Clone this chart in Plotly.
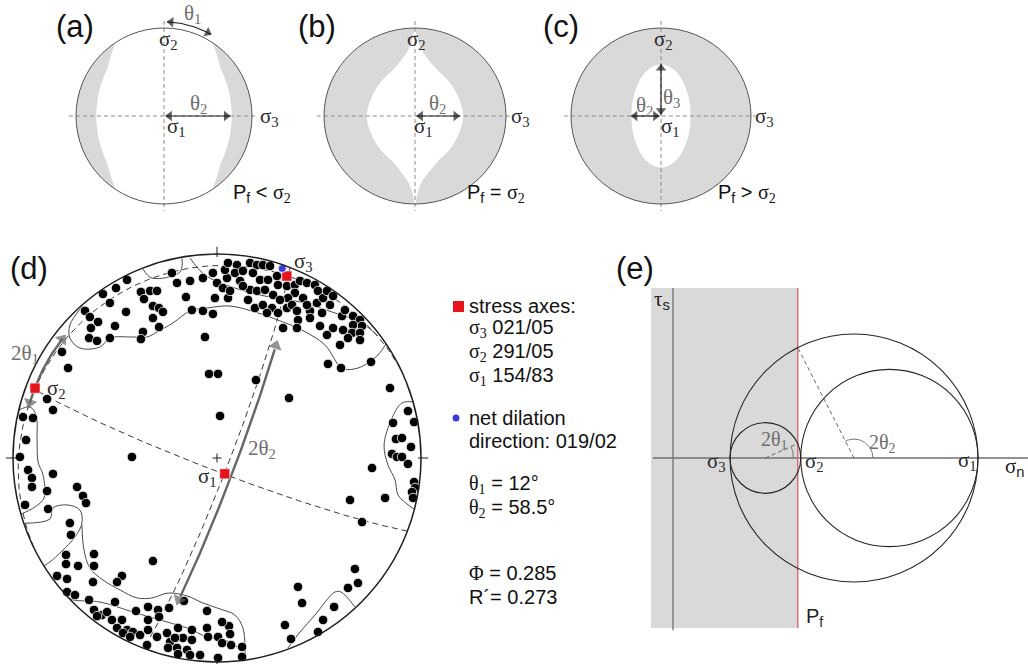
import math
import plotly.graph_objects as go

W, H = 1028, 664
SANS = "Liberation Sans, Arial, Helvetica, sans-serif"
SERIF = "Liberation Serif, Times New Roman, serif"
SHADE = "#d9d9d9"
INK = "#1e1e1e"
GREEK = "#2a2a2a"
MUTED = "#6e6e6e"
DASH_GREY = "#8c8c8c"

# ---------------- data ----------------
# (a) Pf < sigma2: inner edge of the dilatant band around sigma3 (upper-right quarter of a unit net)
BAND_A_E = [0.55, 0.60, 0.64, 0.70, 0.745, 0.765, 0.77]
BAND_A_N = [0.835, 0.70, 0.557, 0.40, 0.25, 0.10, 0.0]
# (b) Pf = sigma2: edge of the non-dilatant lens (right half, pole to equator)
LENS_B_E = [0.0, 0.03, 0.08, 0.22, 0.39, 0.49, 0.53]
LENS_B_N = [1.0, 0.87, 0.74, 0.55, 0.37, 0.18, 0.0]
# (c) Pf > sigma2: half axes of the non-dilatant ellipse around sigma1
HOLE_C_E, HOLE_C_N = 0.33, 0.585

# (d) principal stress axes, trend/plunge in degrees
AXIS_NAMES = ["σ1", "σ2", "σ3"]
AXIS_TREND = [154, 291, 21]
AXIS_PLUNGE = [83, 5, 5]
DILATION_TREND, DILATION_PLUNGE = 19, 2
THETA1, THETA2 = 12.0, 58.5
PHI, R_PRIME = 0.285, 0.273

# poles to fractures, equal-area lower hemisphere, net coordinates (east, north), primitive radius 1
POLE_E = [
    -0.441, -0.495, -0.559, -0.525, -0.647, -0.623, -0.583, -0.618, -0.627, -0.588,
    -0.525, -0.500, -0.446, -0.373, -0.328, -0.294, -0.358, -0.314, -0.284, -0.265,
    -0.314, -0.284, -0.363, -0.373, -0.221, -0.196, -0.152, -0.132, -0.069, -0.020,
    0.000, -0.010, 0.029, 0.049, -0.123, -0.069, -0.020, -0.059, -0.760, -0.730,
    -0.039, 0.005, -0.833, -0.804, -0.951, -0.902, -0.936, -0.966, -0.417, 0.015,
    0.054, 0.039, 0.054, 0.098, 0.088, 0.127, 0.162, 0.196, 0.225, 0.260,
    0.176, 0.211, 0.250, 0.294, 0.113, 0.162, 0.196, 0.235, 0.275, 0.299,
    0.343, 0.382, 0.407, 0.441, 0.480, 0.495, 0.382, 0.422, 0.348, 0.309,
    0.152, 0.186, 0.225, 0.270, 0.299, 0.245, 0.343, 0.368, 0.392, 0.456,
    0.441, 0.490, 0.520, 0.539, 0.569, 0.554, 0.515, 0.456, 0.397, 0.392,
    0.324, 0.505, 0.569, 0.613, 0.627, 0.667, 0.701, 0.667, 0.711, 0.618,
    0.662, 0.701, 0.642, 0.701, 0.603, 0.127, 0.064, 0.539, 0.544, 0.608,
    0.755, 0.848, 0.191, 0.353, 0.936, 0.863, 0.966, 0.877, 0.907, 0.951,
    0.858, 0.882, 0.907, 0.936, 0.760, 0.966, 0.971, 0.956, 0.652, 0.824,
    0.961, 0.711, 0.676, 0.691, 0.642, 0.397, 0.417, 0.574, 0.520, 0.333,
    0.495, 0.363, 0.059, 0.064, 0.069, 0.123, 0.123, -0.926, -0.907, -0.907,
    -0.833, -0.804, -0.941, -0.828, -0.686, -0.657, -0.642, -0.721, -0.716, -0.740,
    -0.740, -0.681, -0.603, -0.603, -0.784, -0.735, -0.608, -0.466, -0.490, -0.314,
    -0.735, -0.696, -0.627, -0.500, -0.397, -0.338, -0.289, -0.284, -0.235, -0.162,
    -0.049, 0.025, -0.603, -0.564, -0.539, -0.515, -0.588, -0.466, -0.490, -0.441,
    -0.412, -0.377, -0.461, -0.338, -0.294, -0.245, -0.191, -0.123, -0.049, -0.167,
    -0.123, -0.230, -0.343, -0.240, -0.196, -0.147, -0.083, -0.044, 0.005, 0.005,
    -0.191, -0.132, -0.426, -0.338, 0.025, -0.206,
]
POLE_N = [
    0.873, 0.833, 0.804, 0.760, 0.721, 0.691, 0.667, 0.637, 0.588, 0.574,
    0.588, 0.647, 0.716, 0.814, 0.819, 0.819, 0.779, 0.745, 0.735, 0.716,
    0.686, 0.642, 0.618, 0.583, 0.907, 0.858, 0.789, 0.868, 0.882, 0.907,
    0.858, 0.784, 0.833, 0.882, 0.725, 0.721, 0.706, 0.593, 0.520, 0.441,
    0.412, 0.412, 0.289, 0.235, 0.201, 0.196, 0.088, 0.005, 0.005, 0.206,
    0.784, 0.922, 0.956, 0.946, 0.907, 0.917, 0.956, 0.946, 0.946, 0.941,
    0.907, 0.873, 0.873, 0.892, 0.868, 0.824, 0.819, 0.824, 0.799, 0.848,
    0.843, 0.848, 0.868, 0.858, 0.848, 0.819, 0.809, 0.784, 0.784, 0.775,
    0.775, 0.735, 0.750, 0.735, 0.711, 0.711, 0.735, 0.750, 0.721, 0.721,
    0.750, 0.760, 0.784, 0.819, 0.794, 0.750, 0.711, 0.686, 0.676, 0.637,
    0.637, 0.647, 0.637, 0.696, 0.725, 0.696, 0.676, 0.652, 0.647, 0.627,
    0.613, 0.613, 0.588, 0.578, 0.554, 0.843, 0.819, 0.603, 0.461, 0.441,
    0.471, 0.343, 0.382, 0.294, 0.230, 0.172, 0.176, 0.093, 0.098, 0.054,
    0.020, 0.005, 0.005, -0.029, -0.049, -0.118, -0.147, -0.167, -0.206, -0.196,
    -0.196, -0.314, -0.544, -0.613, -0.637, -0.632, -0.711, -0.730, -0.794, -0.819,
    -0.853, -0.887, -0.824, -0.863, -0.917, -0.926, -0.975, -0.059, -0.098, -0.142,
    -0.162, -0.078, -0.230, -0.250, -0.142, -0.186, -0.221, -0.319, -0.377, -0.475,
    -0.520, -0.529, -0.471, -0.529, -0.578, -0.593, -0.608, -0.578, -0.608, -0.505,
    -0.657, -0.672, -0.696, -0.706, -0.750, -0.730, -0.745, -0.779, -0.735, -0.701,
    -0.750, -0.804, -0.745, -0.770, -0.755, -0.794, -0.775, -0.794, -0.833, -0.843,
    -0.853, -0.868, -0.858, -0.843, -0.877, -0.858, -0.833, -0.843, -0.833, -0.882,
    -0.892, -0.902, -0.917, -0.931, -0.931, -0.941, -0.966, -0.877, -0.877, -0.980,
    -0.961, -0.966, -0.877, -0.794, -0.907, -0.882,
]

# density contours of the poles, (east, north) vertices
CONTOUR_N_OUTER = [(-0.659, 0.745), (-0.721, 0.652), (-0.721, 0.588), (-0.672, 0.539), (-0.574, 0.544),
                   (-0.525, 0.588), (-0.412, 0.593), (-0.343, 0.593), (-0.294, 0.618), (-0.216, 0.662),
                   (-0.132, 0.721), (-0.049, 0.735), (0.064, 0.745), (0.201, 0.711), (0.299, 0.676),
                   (0.417, 0.627), (0.529, 0.554), (0.613, 0.441), (0.691, 0.441), (0.789, 0.505),
                   (0.828, 0.559)]
CONTOUR_N_SMALL = [(-0.363, 0.926), (-0.319, 0.882), (-0.181, 0.912), (-0.172, 0.980)]
CONTOUR_N_INNER = [(-0.132, 0.980), (-0.059, 0.897), (0.088, 0.833), (0.235, 0.794), (0.407, 0.765),
                   (0.578, 0.711), (0.701, 0.667), (0.789, 0.598)]
CONTOUR_E = [(0.961, 0.275), (0.907, 0.270), (0.858, 0.196), (0.819, 0.064), (0.838, -0.034),
             (0.873, -0.108), (0.887, -0.181), (0.931, -0.225), (0.966, -0.250)]
CONTOUR_W = [(-0.971, 0.235), (-0.917, 0.250), (-0.887, 0.211), (-0.882, 0.088), (-0.877, -0.020),
             (-0.853, -0.083), (-0.848, -0.196), (-0.892, -0.240), (-0.961, -0.275)]
CONTOUR_SW = [(-0.940, -0.320), (-0.819, -0.299), (-0.804, -0.245), (-0.735, -0.230), (-0.672, -0.255),
              (-0.662, -0.319), (-0.696, -0.387), (-0.760, -0.456), (-0.819, -0.510), (-0.848, -0.529)]
CONTOUR_S_OUTER = [(-0.662, -0.330), (-0.652, -0.451), (-0.623, -0.539), (-0.559, -0.598), (-0.475, -0.647),
                   (-0.392, -0.686), (-0.319, -0.686), (-0.240, -0.662), (-0.147, -0.676), (-0.069, -0.711),
                   (0.015, -0.740), (0.088, -0.770), (0.127, -0.833), (0.137, -0.917), (0.137, -0.985)]
CONTOUR_S_INNER = [(-0.725, -0.686), (-0.706, -0.696), (-0.574, -0.706), (-0.412, -0.755), (-0.245, -0.804),
                   (-0.147, -0.833), (-0.049, -0.877), (0.064, -0.902), (0.113, -0.941)]
CONTOUR_SE = [(0.348, -0.931), (0.407, -0.853), (0.480, -0.770), (0.578, -0.657), (0.608, -0.657),
              (0.676, -0.730)]

# (e) Mohr diagram, stresses normalised to sigma1 = 1
SIGMA1, SIGMA3 = 1.0, 0.187
SIGMA2 = SIGMA3 + PHI * (SIGMA1 - SIGMA3)
PF = SIGMA3 + R_PRIME * (SIGMA1 - SIGMA3)

# ---------------- figure helpers ----------------
fig = go.Figure()
PX_PER_UNIT = {}


def setup_axes(i, box, centre, sx, sy=None):
    sy = sy or sx
    x0, y0, x1, y1 = box
    cx, cy = centre
    xn, yn = ("xaxis", "yaxis") if i == 1 else (f"xaxis{i}", f"yaxis{i}")
    xr, yr = ("x", "y") if i == 1 else (f"x{i}", f"y{i}")
    fig.update_layout(**{
        xn: dict(domain=[x0 / W, x1 / W], range=[(x0 - cx) / sx, (x1 - cx) / sx],
                 visible=False, anchor=yr, fixedrange=True),
        yn: dict(domain=[1 - y1 / H, 1 - y0 / H], range=[(cy - y1) / sy, (cy - y0) / sy],
                 visible=False, anchor=xr, fixedrange=True),
    })
    PX_PER_UNIT[(xr, yr)] = (sx, sy)
    return xr, yr


def line(ax, xs, ys, color=INK, width=1.0, dash=None, shape="linear"):
    fig.add_trace(go.Scatter(x=list(xs), y=list(ys), mode="lines",
                             line=dict(color=color, width=width, dash=dash, shape=shape),
                             xaxis=ax[0], yaxis=ax[1], hoverinfo="skip", showlegend=False))


def area(ax, xs, ys, color, shape="linear"):
    fig.add_trace(go.Scatter(x=list(xs), y=list(ys), mode="lines", fill="toself", fillcolor=color,
                             line=dict(width=0, color=color, shape=shape),
                             xaxis=ax[0], yaxis=ax[1], hoverinfo="skip", showlegend=False))


def circle(ax, cx, cy, rx, ry=None, line_color=INK, width=1.0, fill=None, layer="above"):
    ry = ry or rx
    fig.add_shape(type="circle", xref=ax[0], yref=ax[1], x0=cx - rx, x1=cx + rx, y0=cy - ry, y1=cy + ry,
                  line=dict(color=line_color, width=width), fillcolor=fill or "rgba(0,0,0,0)", layer=layer)


def head(ax, tip, tail, color=INK, size=9):
    """Filled triangular arrowhead whose point sits on `tip`, aimed from `tail`."""
    sx, sy = PX_PER_UNIT[ax]
    dxp, dyp = (tip[0] - tail[0]) * sx, (tip[1] - tail[1]) * sy
    n = math.hypot(dxp, dyp)
    back = 0.42 * size
    cx = tip[0] - dxp / n * back / sx
    cy = tip[1] - dyp / n * back / sy
    bx = cx - dxp / n * 4 / sx
    by = cy - dyp / n * 4 / sy
    fig.add_trace(go.Scatter(x=[bx, cx], y=[by, cy], mode="markers",
                             marker=dict(symbol="triangle-up", size=[0, size], color=color,
                                         angleref="previous", line=dict(width=0)),
                             xaxis=ax[0], yaxis=ax[1], hoverinfo="skip", showlegend=False))


def double_arrow(ax, p0, p1, color=INK, width=1.2, size=9):
    line(ax, [p0[0], p1[0]], [p0[1], p1[1]], color, width)
    head(ax, p1, p0, color, size)
    head(ax, p0, p1, color, size)


def label(px, py, text, size=20, color=GREEK, family=SERIF, xanchor="center"):
    fig.add_annotation(x=px / W, y=1 - py / H, xref="paper", yref="paper", text=text, showarrow=False,
                       font=dict(size=size, color=color, family=family), xanchor=xanchor, yanchor="middle")


def greek(s):
    return f'<span style="font-family:{SERIF}">{s}</span>'


def arc_points(cx, cy, r, a0, a1, n=60):
    pts = [math.radians(a0 + (a1 - a0) * k / (n - 1)) for k in range(n)]
    return [cx + r * math.cos(t) for t in pts], [cy + r * math.sin(t) for t in pts]


# ---------------- stereonet geometry ----------------
def to_vec(trend, plunge):
    t, p = math.radians(trend), math.radians(plunge)
    return (math.cos(p) * math.sin(t), math.cos(p) * math.cos(t), math.sin(p))


def project(v):
    e, n, d = v
    if d < 0:
        e, n, d = -e, -n, -d
    norm = math.sqrt(e * e + n * n + d * d)
    e, n, d = e / norm, n / norm, d / norm
    plunge = math.asin(max(-1.0, min(1.0, d)))
    rho = math.sqrt(2) * math.sin((math.pi / 2 - plunge) / 2)
    h = math.hypot(e, n)
    if h < 1e-12:
        return 0.0, 0.0
    return rho * e / h, rho * n / h


def cross(a, b):
    return (a[1] * b[2] - a[2] * b[1], a[2] * b[0] - a[0] * b[2], a[0] * b[1] - a[1] * b[0])


def unit(a):
    s = math.sqrt(sum(c * c for c in a))
    return tuple(c / s for c in a)


def great_circle(pole, n=181):
    a = unit((pole[1], -pole[0], 0.0))
    b = unit(cross(pole, a))
    if b[2] < 0:
        b = tuple(-c for c in b)
    xs, ys = [], []
    for k in range(n):
        f = math.pi * k / (n - 1)
        v = tuple(math.cos(f) * a[i] + math.sin(f) * b[i] for i in range(3))
        x, y = project(v)
        xs.append(x)
        ys.append(y)
    return xs, ys


# ---------------- axes ----------------
AX_A = setup_axes(1, (0, 0, 290, 228), (164, 116), 88)
AX_B = setup_axes(2, (290, 0, 540, 228), (415, 116), 91, 88)
AX_C = setup_axes(3, (540, 0, 800, 228), (661, 116), 90, 88)
AX_D = setup_axes(4, (0, 235, 445, 664), (217, 458), 204)
AX_E = setup_axes(5, (590, 245, 1028, 664), (673, 458), 305)


def small_net_frame(ax):
    line(ax, [-1.08, 1.05], [0, 0], DASH_GREY, 1, "4px,3px")
    line(ax, [0, 0], [1.08, -1.08], DASH_GREY, 1, "4px,3px")
    circle(ax, 0, 0, 1, line_color="#555555", width=1)


# (a) dilatant bands on both sides
upper = list(zip(BAND_A_E, BAND_A_N))
inner = upper + [(e, -n) for e, n in reversed(upper[:-1])]
a_lim = math.degrees(math.atan2(BAND_A_N[0], BAND_A_E[0]))
arc_x, arc_y = arc_points(0, 0, 1, -a_lim, a_lim, 50)
right_x = [p[0] for p in inner] + arc_x
right_y = [p[1] for p in inner] + arc_y
area(AX_A, right_x, right_y, SHADE, "spline")
area(AX_A, [-x for x in right_x], right_y, SHADE, "spline")
small_net_frame(AX_A)
th1_x, th1_y = arc_points(0, 0, 1.07, 88, 60, 30)
line(AX_A, th1_x, th1_y, INK, 1.1)
head(AX_A, (th1_x[0], th1_y[0]), (th1_x[3], th1_y[3]), size=9)
head(AX_A, (th1_x[-1], th1_y[-1]), (th1_x[-4], th1_y[-4]), size=9)
double_arrow(AX_A, (0.02, 0), (0.75, 0))

# (b) grey net with a white lens around sigma1
circle(AX_B, 0, 0, 1, line_color=SHADE, width=0, fill=SHADE, layer="below")
lens_r = list(zip(LENS_B_E, LENS_B_N))
right_side = lens_r + [(e, -n) for e, n in reversed(lens_r[:-1])]
left_side = [(-e, n) for e, n in reversed(right_side[1:-1])]
lens = right_side + left_side
area(AX_B, [p[0] for p in lens], [p[1] for p in lens], "white", "spline")
small_net_frame(AX_B)
double_arrow(AX_B, (0.02, 0), (LENS_B_E[-1] - 0.04, 0))

# (c) grey net with a white ellipse around sigma1
circle(AX_C, 0, 0, 1, line_color=SHADE, width=0, fill=SHADE, layer="below")
circle(AX_C, 0, 0, HOLE_C_E, HOLE_C_N, line_color="white", width=0, fill="white", layer="below")
small_net_frame(AX_C)
double_arrow(AX_C, (-0.02, 0), (-HOLE_C_E, 0))
double_arrow(AX_C, (0, 0.02), (0, HOLE_C_N))

# ---------------- (d) stereonet ----------------
axes_vec = {name: to_vec(t, p) for name, t, p in zip(AXIS_NAMES, AXIS_TREND, AXIS_PLUNGE)}
for pole_name in AXIS_NAMES:
    gx, gy = great_circle(axes_vec[pole_name])
    line(AX_D, gx, gy, "#3a3a3a", 1, "6px,4px")

for pts in (CONTOUR_N_OUTER, CONTOUR_N_SMALL, CONTOUR_N_INNER, CONTOUR_E, CONTOUR_W,
            CONTOUR_SW, CONTOUR_S_OUTER, CONTOUR_S_INNER, CONTOUR_SE):
    line(AX_D, [p[0] for p in pts], [p[1] for p in pts], "#4a4a4a", 1, None, "spline")

fig.add_trace(go.Scatter(x=POLE_E, y=POLE_N, mode="markers",
                         marker=dict(size=9.5, color="black", line=dict(color="white", width=0.8)),
                         xaxis=AX_D[0], yaxis=AX_D[1], hoverinfo="skip", showlegend=False))

# primitive, ticks and centre cross
circle(AX_D, 0, 0, 1, line_color=INK, width=1.5)
for az in (0, 90, 180, 270):
    t = math.radians(az)
    line(AX_D, [0.985 * math.sin(t), 1.035 * math.sin(t)], [0.985 * math.cos(t), 1.035 * math.cos(t)], INK, 1)
line(AX_D, [-0.022, 0.022], [0, 0], INK, 1)
line(AX_D, [0, 0], [-0.022, 0.022], INK, 1)

# 2theta1 arrow near the primitive, beside sigma2
t_start = AXIS_TREND[1] - 6
az = [t_start + 2 * THETA1 * k / 40 for k in range(41)]
arc1_x = [0.957 * math.sin(math.radians(a)) for a in az]
arc1_y = [0.957 * math.cos(math.radians(a)) for a in az]
line(AX_D, arc1_x[2:-2], arc1_y[2:-2], "#666666", 2.4)
head(AX_D, (arc1_x[0], arc1_y[0]), (arc1_x[5], arc1_y[5]), "#666666", 12)
head(AX_D, (arc1_x[-1], arc1_y[-1]), (arc1_x[-6], arc1_y[-6]), "#666666", 12)

# 2theta2 arrow along the sigma1-sigma3 plane, drawn beside the dashed great circle
s1, s3 = axes_vec["σ1"], axes_vec["σ3"]
dot13 = sum(a * b for a, b in zip(s1, s3))
w = unit(tuple(b - dot13 * a for a, b in zip(s1, s3)))
arc2_x, arc2_y = [], []
for k in range(61):
    alpha = math.radians(-THETA2 + 2 * THETA2 * k / 60)
    v = tuple(math.cos(alpha) * a + math.sin(alpha) * b for a, b in zip(s1, w))
    x, y = project(v)
    arc2_x.append(x + 0.032)
    arc2_y.append(y - 0.010)
line(AX_D, arc2_x[2:-2], arc2_y[2:-2], "#666666", 2.4)
head(AX_D, (arc2_x[0], arc2_y[0]), (arc2_x[6], arc2_y[6]), "#666666", 12)
head(AX_D, (arc2_x[-1], arc2_y[-1]), (arc2_x[-7], arc2_y[-7]), "#666666", 12)

# stress axes and net dilation direction
sx_, sy_ = zip(*[project(axes_vec[n]) for n in AXIS_NAMES])
fig.add_trace(go.Scatter(x=list(sx_), y=list(sy_), mode="markers",
                         marker=dict(symbol="square", size=10, color="#e8141c", line=dict(color="white", width=0.5)),
                         xaxis=AX_D[0], yaxis=AX_D[1], hoverinfo="skip", showlegend=False))
dx, dy = project(to_vec(DILATION_TREND, DILATION_PLUNGE))
fig.add_trace(go.Scatter(x=[dx], y=[dy], mode="markers",
                         marker=dict(symbol="circle", size=8, color="#3b3bd6", line=dict(color="white", width=0.8)),
                         xaxis=AX_D[0], yaxis=AX_D[1], hoverinfo="skip", showlegend=False))

# ---------------- (e) Mohr diagram ----------------
fig.add_shape(type="rect", xref=AX_E[0], yref=AX_E[1], x0=-0.072, x1=PF, y0=-0.557, y1=0.557,
              fillcolor=SHADE, line=dict(width=0), layer="below")
line(AX_E, [0, 0], [-0.565, 0.557], "#6f6f6f", 1.3)
line(AX_E, [-0.066, 1.2], [0, 0], "#6f6f6f", 1.3)
line(AX_E, [PF, PF], [-0.557, 0.557], "#d4707c", 1.5)
c_big, r_big = (SIGMA1 + SIGMA3) / 2, (SIGMA1 - SIGMA3) / 2
c_small, r_small = (SIGMA2 + SIGMA3) / 2, (SIGMA2 - SIGMA3) / 2
c_mid, r_mid = (SIGMA1 + SIGMA2) / 2, (SIGMA1 - SIGMA2) / 2
circle(AX_E, c_big, 0, r_big, line_color="#262626", width=1.1)
circle(AX_E, c_small, 0, r_small, line_color="#262626", width=1.1)
circle(AX_E, c_mid, 0, r_mid, line_color="#262626", width=1.1)
t2 = math.radians(2 * THETA2)
line(AX_E, [c_big, c_big + r_big * math.cos(t2)], [0, r_big * math.sin(t2)], "#666666", 1, "4px,3px")
t1 = math.radians(2 * THETA1)
line(AX_E, [c_small, c_small + r_small * math.cos(t1)], [0, r_small * math.sin(t1)], "#666666", 1, "4px,3px")
ax2_x, ax2_y = arc_points(c_big, 0, 0.062, 0, 2 * THETA2, 40)
line(AX_E, ax2_x, ax2_y, "#777777", 1)
ax1_x, ax1_y = arc_points(c_small, 0, 0.092, 0, 2 * THETA1, 20)
line(AX_E, ax1_x, ax1_y, "#777777", 1)

# ---------------- text ----------------
for px_, txt in ((75, "(a)"), (317, "(b)"), (561, "(c)")):
    label(px_, 26, txt, 31, "#111111", SANS)
label(29, 269, "(d)", 31, "#111111", SANS)
label(635, 269, "(e)", 31, "#111111", SANS)

# (a)
label(168, 40, "σ<sub>2</sub>", 21)
label(176, 127, "σ<sub>1</sub>", 21)
label(198, 104, "θ<sub>2</sub>", 21, MUTED)
label(192, 14, "θ<sub>1</sub>", 21, MUTED)
label(269, 117, "σ<sub>3</sub>", 21)
label(231, 193, f"P<sub>f</sub> &lt; {greek('σ<sub>2</sub>')}", 20, "#111111", SANS, "left")
# (b)
label(416, 40, "σ<sub>2</sub>", 21)
label(423, 127, "σ<sub>1</sub>", 21)
label(437, 104, "θ<sub>2</sub>", 21, MUTED)
label(520, 117, "σ<sub>3</sub>", 21)
label(465, 193, f"P<sub>f</sub> = {greek('σ<sub>2</sub>')}", 20, "#111111", SANS, "left")
# (c)
label(663, 40, "σ<sub>2</sub>", 21)
label(670, 127, "σ<sub>1</sub>", 21)
label(644, 106, "θ<sub>2</sub>", 21, MUTED)
label(671, 98, "θ<sub>3</sub>", 21, MUTED)
label(764, 117, "σ<sub>3</sub>", 21)
label(716, 193, f"P<sub>f</sub> &gt; {greek('σ<sub>2</sub>')}", 20, "#111111", SANS, "left")

# (d)
label(303, 262, "σ<sub>3</sub>", 21)
label(56, 389, "σ<sub>2</sub>", 21)
label(207, 477, "σ<sub>1</sub>", 21)
label(25, 354, "2θ<sub>1</sub>", 21, MUTED)
label(262, 449, "2θ<sub>2</sub>", 21, MUTED)

# legend block
fig.add_shape(type="rect", xref="paper", yref="paper", x0=453 / W, x1=464 / W,
              y0=1 - 312 / H, y1=1 - 301 / H, fillcolor="#e8141c", line=dict(width=0))
fig.add_shape(type="circle", xref="paper", yref="paper", x0=452.5 / W, x1=459.5 / W,
              y0=1 - 421.5 / H, y1=1 - 414.5 / H, fillcolor="#3b3bd6", line=dict(width=0))
LX = 467
label(LX, 306, "stress axes:", 20, "#111111", SANS, "left")
label(LX, 329, f"{greek('σ<sub>3</sub>')} 021/05", 20, "#111111", SANS, "left")
label(LX, 353, f"{greek('σ<sub>2</sub>')} 291/05", 20, "#111111", SANS, "left")
label(LX, 377, f"{greek('σ<sub>1</sub>')} 154/83", 20, "#111111", SANS, "left")
label(LX, 418, "net dilation", 20, "#111111", SANS, "left")
label(LX, 441, "direction: 019/02", 20, "#111111", SANS, "left")
label(LX, 484, f"{greek('θ<sub>1</sub>')} = 12°", 20, "#111111", SANS, "left")
label(LX, 508, f"{greek('θ<sub>2</sub>')} = 58.5°", 20, "#111111", SANS, "left")
label(LX, 573, f"{greek('Φ')} = 0.285", 20, "#111111", SANS, "left")
label(LX, 597, "R´= 0.273", 20, "#111111", SANS, "left")

# (e)
label(662, 300, f"{greek('τ')}<sub>s</sub>", 21, "#222222", SANS)
label(716, 462, "σ<sub>3</sub>", 21)
label(814, 462, "σ<sub>2</sub>", 21)
label(967, 461, "σ<sub>1</sub>", 21)
label(1015, 467, f"{greek('σ')}<sub>n</sub>", 21, "#222222", SANS)
label(814, 617, "P<sub>f</sub>", 20, "#222222", SANS)
label(774, 440, "2θ<sub>1</sub>", 20, MUTED)
label(882, 443, "2θ<sub>2</sub>", 20, MUTED)

fig.update_layout(width=W, height=H, margin=dict(l=0, r=0, t=0, b=0),
                  paper_bgcolor="white", plot_bgcolor="rgba(0,0,0,0)", showlegend=False)
fig.write_html("out.html")
